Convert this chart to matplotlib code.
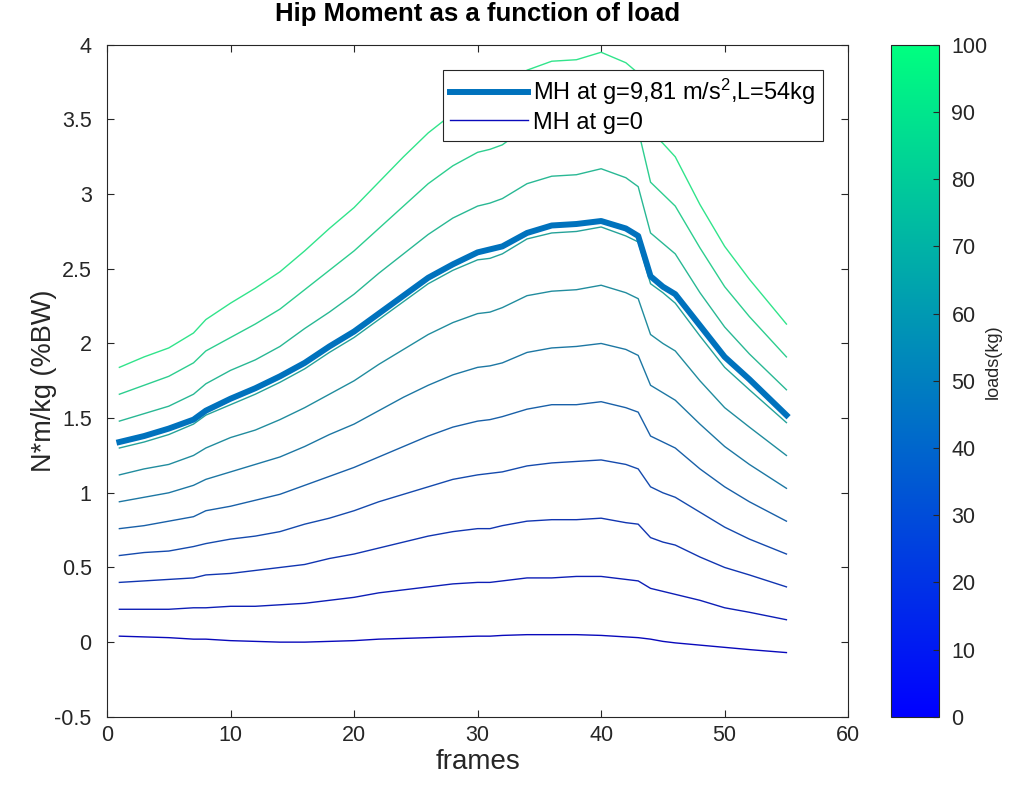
import numpy as np
import matplotlib
matplotlib.use("Agg")
import matplotlib.pyplot as plt
from matplotlib.cm import ScalarMappable
from matplotlib.colors import Normalize

plt.rcParams['font.family'] = ['Liberation Sans', 'DejaVu Sans']
plt.rcParams['mathtext.default'] = 'regular'

# sampled frames of the lift cycle
frames = [1, 3, 5, 7, 8, 10, 12, 14, 16, 18, 20, 22, 24, 26, 28, 30, 31, 32,
          34, 36, 38, 40, 42, 43, 44, 45, 46, 48, 50, 52, 55]

loads = [0, 10, 20, 30, 40, 50, 60, 70, 80, 90, 100]

# hip moment (N*m/kg) for every load, g = 0
mh_0 = [0.04, 0.035, 0.03, 0.02, 0.02, 0.01, 0.005, 0.00, 0.00, 0.005, 0.01, 0.02, 0.025, 0.03, 0.035, 0.04,
        0.04, 0.045, 0.05, 0.05, 0.05, 0.045, 0.035, 0.03, 0.02, 0.005, -0.005, -0.02, -0.035, -0.05, -0.07]
mh_10 = [0.22, 0.22, 0.22, 0.23, 0.23, 0.24, 0.24, 0.25, 0.26, 0.28, 0.30, 0.33, 0.35, 0.37, 0.39, 0.40,
         0.40, 0.41, 0.43, 0.43, 0.44, 0.44, 0.42, 0.41, 0.36, 0.34, 0.32, 0.28, 0.23, 0.20, 0.15]
mh_20 = [0.40, 0.41, 0.42, 0.43, 0.45, 0.46, 0.48, 0.50, 0.52, 0.56, 0.59, 0.63, 0.67, 0.71, 0.74, 0.76,
         0.76, 0.78, 0.81, 0.82, 0.82, 0.83, 0.80, 0.79, 0.70, 0.67, 0.65, 0.57, 0.50, 0.45, 0.37]
mh_30 = [0.58, 0.60, 0.61, 0.64, 0.66, 0.69, 0.71, 0.74, 0.79, 0.83, 0.88, 0.94, 0.99, 1.04, 1.09, 1.12,
         1.13, 1.14, 1.18, 1.20, 1.21, 1.22, 1.19, 1.16, 1.04, 1.00, 0.97, 0.87, 0.77, 0.69, 0.59]
mh_40 = [0.76, 0.78, 0.81, 0.84, 0.88, 0.91, 0.95, 0.99, 1.05, 1.11, 1.17, 1.24, 1.31, 1.38, 1.44, 1.48,
         1.49, 1.51, 1.56, 1.59, 1.59, 1.61, 1.57, 1.54, 1.38, 1.34, 1.30, 1.16, 1.04, 0.94, 0.81]
mh_50 = [0.94, 0.97, 1.00, 1.05, 1.09, 1.14, 1.19, 1.24, 1.31, 1.39, 1.46, 1.55, 1.64, 1.72, 1.79, 1.84,
         1.85, 1.87, 1.94, 1.97, 1.98, 2.00, 1.96, 1.92, 1.72, 1.67, 1.62, 1.46, 1.31, 1.19, 1.03]
mh_60 = [1.12, 1.16, 1.19, 1.25, 1.30, 1.37, 1.42, 1.49, 1.57, 1.66, 1.75, 1.86, 1.96, 2.06, 2.14, 2.20,
         2.21, 2.24, 2.32, 2.35, 2.36, 2.39, 2.34, 2.30, 2.06, 2.00, 1.95, 1.75, 1.57, 1.44, 1.25]
mh_70 = [1.30, 1.34, 1.39, 1.46, 1.52, 1.59, 1.66, 1.74, 1.83, 1.94, 2.04, 2.16, 2.28, 2.40, 2.49, 2.56,
         2.57, 2.60, 2.70, 2.74, 2.75, 2.78, 2.72, 2.68, 2.40, 2.34, 2.27, 2.05, 1.84, 1.69, 1.47]
mh_80 = [1.48, 1.53, 1.58, 1.66, 1.73, 1.82, 1.89, 1.98, 2.10, 2.21, 2.33, 2.47, 2.60, 2.73, 2.84, 2.92,
         2.94, 2.97, 3.07, 3.12, 3.13, 3.17, 3.11, 3.05, 2.74, 2.67, 2.60, 2.34, 2.11, 1.93, 1.69]
mh_90 = [1.66, 1.72, 1.78, 1.87, 1.95, 2.04, 2.13, 2.23, 2.36, 2.49, 2.62, 2.77, 2.92, 3.07, 3.19, 3.28,
         3.30, 3.33, 3.45, 3.51, 3.52, 3.56, 3.49, 3.43, 3.08, 3.00, 2.92, 2.64, 2.38, 2.18, 1.91]
mh_100 = [1.84, 1.91, 1.97, 2.07, 2.16, 2.27, 2.37, 2.48, 2.62, 2.77, 2.91, 3.08, 3.25, 3.41, 3.54, 3.64,
          3.66, 3.70, 3.83, 3.89, 3.90, 3.95, 3.88, 3.81, 3.42, 3.34, 3.25, 2.93, 2.65, 2.43, 2.13]

# hip moment with gravity, 54 kg load
mh_g = [1.34, 1.38, 1.43, 1.49, 1.55, 1.63, 1.70, 1.78, 1.87, 1.98, 2.08, 2.20, 2.32, 2.44, 2.53, 2.61,
        2.63, 2.65, 2.74, 2.79, 2.80, 2.82, 2.77, 2.72, 2.45, 2.38, 2.33, 2.12, 1.91, 1.76, 1.52]

mh_loads = [mh_0, mh_10, mh_20, mh_30, mh_40, mh_50, mh_60, mh_70, mh_80, mh_90, mh_100]

fig = plt.figure(figsize=(10.33, 8), dpi=100)
ax = fig.add_axes([0.1036, 0.104, 0.7175, 0.840])
cax = fig.add_axes([0.8625, 0.104, 0.0465, 0.840])

cmap = plt.get_cmap('winter')
norm = Normalize(0, 100)


def line_colour(load):
    # winter colour, toned down a little toward grey
    r, g, b, _ = cmap(norm(load))
    grey = 0.299 * r + 0.587 * g + 0.114 * b
    k = 0.3
    return ((1 - k) * r + k * grey, (1 - k) * g + k * grey, (1 - k) * b + k * grey)


g_line, = ax.plot(frames, mh_g, color='#0072BD', lw=4.3, zorder=3)
thin = []
for load, mh in zip(loads, mh_loads):
    h, = ax.plot(frames, mh, color=line_colour(load), lw=1.0, zorder=2)
    thin.append(h)

ax.set_xlim(0, 60)
ax.set_ylim(-0.5, 4)
ax.set_xticks(np.arange(0, 61, 10))
ax.set_yticks(np.arange(-0.5, 4.01, 0.5))
ax.set_yticklabels(['-0.5', '0', '0.5', '1', '1.5', '2', '2.5', '3', '3.5', '4'])
ax.tick_params(direction='in', length=5, width=0.8, top=True, right=True,
               labelsize=15.5, colors='#262626')
ax.tick_params(axis='y', pad=11)
ax.tick_params(axis='x', pad=6)
for sp in ax.spines.values():
    sp.set_color('#262626')
    sp.set_linewidth(0.8)

ax.set_title('Hip Moment as a function of load', fontsize=18.5, fontweight='bold', pad=17)
ax.set_xlabel('frames', fontsize=20, color='#262626', labelpad=2)
ax.set_ylabel('N*m/kg (%BW)', fontsize=19.5, color='#262626', labelpad=-2)

leg = ax.legend([g_line, thin[0]], ['MH at g=9,81 m/s$^{2}$,L=54kg', 'MH at g=0'],
                loc='upper right', bbox_to_anchor=(0.966, 0.963), fontsize=17,
                handlelength=3.3, handletextpad=0.25, borderpad=0.3,
                labelspacing=0.2, fancybox=False, framealpha=1, borderaxespad=0)
leg.get_frame().set_edgecolor('#262626')
leg.get_frame().set_linewidth(0.8)
leg.set_zorder(5)

sm = ScalarMappable(norm=norm, cmap=cmap)
cb = fig.colorbar(sm, cax=cax)
cb.set_ticks(np.arange(0, 101, 10))
cb.ax.tick_params(direction='in', length=4, width=0.8, labelsize=15.5,
                  colors='#262626', pad=9)
cb.outline.set_edgecolor('#262626')
cb.outline.set_linewidth(0.8)
fig.text(993 / 1033, 1 - 362 / 800, 'loads(kg)', rotation=90, fontsize=13,
         color='#262626', ha='center', va='center')

fig.savefig('out.png', dpi=100)
